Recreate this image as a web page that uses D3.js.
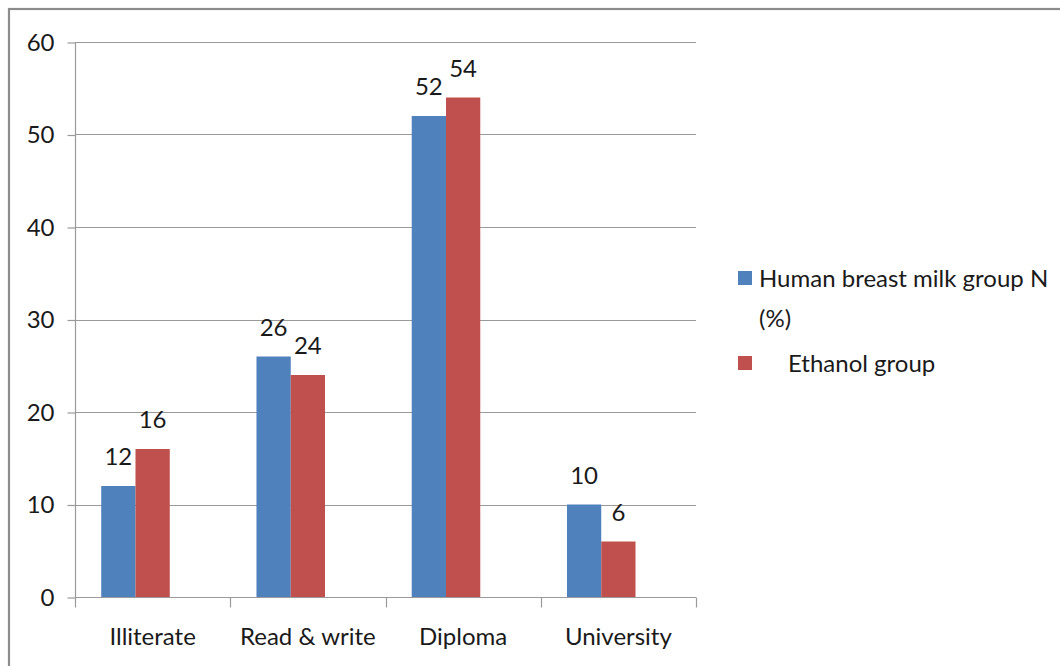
<!DOCTYPE html>
<html>
<head>
<meta charset="utf-8">
<script src="https://cdn.jsdelivr.net/npm/d3@7/dist/d3.min.js"></script>
<style>
  html, body { margin: 0; padding: 0; background: #fff; }
  svg { display: block; }
  text { font-family: Lato, "Open Sans", sans-serif; fill: #1a1a1a; }
</style>
</head>
<body>
<svg id="chart" width="1060" height="666"></svg>
<script>
const categories = ["Illiterate", "Read & write", "Diploma", "University"];
const seriesNames = ["Human breast milk group N (%)", "Ethanol group"];
const humanMilk = [12, 26, 52, 10];
const ethanol = [16, 24, 54, 6];
const yTicks = [0, 10, 20, 30, 40, 50, 60];
const colors = ["#4F81BD", "#C0504D"];
// the original chart reserves a third (empty) bar slot in each group
const barSlots = 3;

(function () {
const svg = d3.select("#chart");
const W = 1060, H = 666;
const FS = "24px";
svg.append("rect").attr("width", W).attr("height", H).attr("fill", "#fff");

// outer frame
svg.append("rect")
  .attr("x", 9).attr("y", 9).attr("width", 1200).attr("height", 800)
  .attr("fill", "none").attr("stroke", "#8c8c8c").attr("stroke-width", 2.2);

const pL = 75, pR = 696, pT = 42, pB = 597;
const x = d3.scaleBand().domain(categories).range([pL, pR]).paddingInner(0).paddingOuter(0);
const inner = d3.scaleBand().domain(d3.range(barSlots)).range([0, x.bandwidth()]).paddingInner(0).paddingOuter(0.765);
const y = d3.scaleLinear().domain([0, 60]).range([pB, pT]);

// gridlines
svg.append("g").selectAll("line").data(yTicks.filter(d => d > 0)).join("line")
  .attr("x1", pL).attr("x2", pR)
  .attr("y1", d => Math.round(y(d)) + 0.5).attr("y2", d => Math.round(y(d)) + 0.5)
  .attr("stroke", "#9a9a9a").attr("stroke-width", 1.2);

// y axis
const yAxis = d3.axisLeft(y).tickValues(yTicks).tickSize(8).tickPadding(13).tickFormat(d3.format("d"));
const gy = svg.append("g").attr("transform", `translate(${pL + 0.5},0.5)`).call(yAxis);
gy.selectAll("path, line").attr("stroke", "#9a9a9a").attr("stroke-width", 1.2);
gy.select(".domain").attr("d", `M0,${pT}V${pB}`);
gy.selectAll("text").style("font-size", FS).style("font-family", "Lato, sans-serif").attr("fill", "#1a1a1a");

// bars
const groups = svg.append("g").selectAll("g").data(categories).join("g")
  .attr("transform", d => `translate(${x(d)},0)`);
const vals = [humanMilk, ethanol];
seriesNames.forEach((s, si) => {
  groups.append("rect")
    .attr("x", inner(si))
    .attr("width", inner.bandwidth())
    .attr("y", (d, i) => y(vals[si][i]))
    .attr("height", (d, i) => pB - y(vals[si][i]))
    .attr("fill", colors[si]);
  groups.append("text")
    .attr("x", inner(si) + inner.bandwidth() / 2)
    .attr("y", (d, i) => y(vals[si][i]) - 21)
    .attr("text-anchor", "middle")
    .style("font-size", FS)
    .text((d, i) => vals[si][i]);
});

// x axis
const gx = svg.append("g").attr("transform", `translate(0,${pB + 0.5})`);
gx.append("line").attr("x1", pL).attr("x2", pR).attr("stroke", "#9a9a9a").attr("stroke-width", 1.2);
const xTickPos = categories.map(c => x(c)).concat([x(categories[categories.length - 1]) + x.bandwidth()]);
gx.selectAll("line.tk").data(xTickPos).join("line").attr("class", "tk")
  .attr("x1", d => Math.round(d) + 0.5).attr("x2", d => Math.round(d) + 0.5)
  .attr("y1", 0).attr("y2", 10).attr("stroke", "#9a9a9a").attr("stroke-width", 1.2);
gx.selectAll("text").data(categories).join("text")
  .attr("x", d => x(d) + x.bandwidth() / 2)
  .attr("y", 47)
  .attr("text-anchor", "middle")
  .style("font-size", FS)
  .text(d => d);

// legend
const leg = svg.append("g");
leg.append("rect").attr("x", 738).attr("y", 271).attr("width", 14).attr("height", 14).attr("fill", colors[0]);
leg.append("text").attr("x", 759).attr("y", 287).style("font-size", FS).text("Human breast milk group N");
leg.append("text").attr("x", 759).attr("y", 327).style("font-size", FS).text("(%)");
leg.append("rect").attr("x", 738).attr("y", 356).attr("width", 14).attr("height", 14).attr("fill", colors[1]);
leg.append("text").attr("x", 788).attr("y", 372).style("font-size", FS).text("Ethanol group");
})();
</script>
</body>
</html>
